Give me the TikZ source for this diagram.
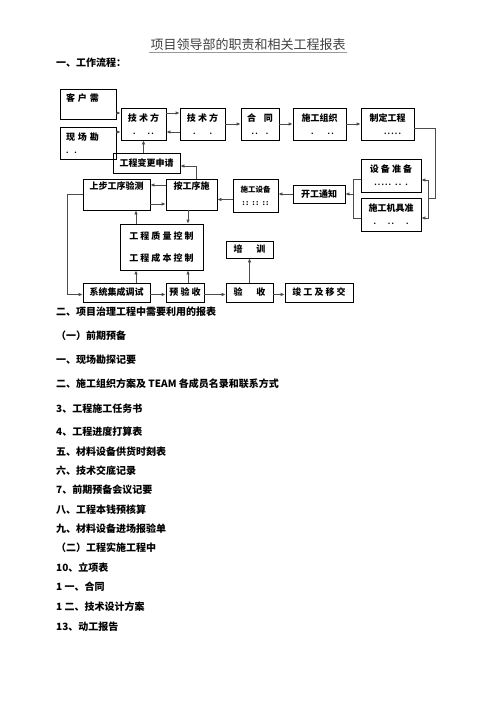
\documentclass[tikz,border=0pt]{standalone}
\usepackage{fontspec}
\setmainfont{Noto Sans CJK SC}
\usetikzlibrary{arrows.meta,positioning}
\tikzset{>={Latex[length=4pt,width=3.6pt]}}
\tikzset{
  box/.style={draw,line width=0.8pt,inner sep=0pt,align=center,
    font=\bfseries\fontsize{9}{13}\selectfont},
  link/.style={->,line width=0.9pt,draw=black!70},
  wire/.style={line width=0.9pt,draw=black!70},
  item/.style={anchor=west,inner sep=0pt,font=\bfseries\fontsize{10}{12}\selectfont}
}
\newcommand{\dotrow}[1]{{\fontsize{7}{7}\selectfont #1}}

\begin{document}
\begin{tikzpicture}[x=1pt,y=-1pt]
\useasboundingbox[fill=white] (0,0) rectangle (496,702);
% heading
\node[font=\fontsize{13}{15}\selectfont,text=black!75,inner sep=1pt] (title) at (248,45) {项目领导部的职责和相关工程报表};
\draw[black!40,line width=1.2pt] (title.south west) -- (title.south east);
\node[item] (flow) at (56,63) {一、工作流程：};

% first row
\node[box,minimum width=56pt,minimum height=30pt,text width=44pt,align=left] (kehu) at (88,104) {客\ 户\ 需\\\mbox{}};
\node[box,minimum width=56pt,minimum height=32pt,text width=44pt,align=left] (xianchang) at (88,143) {现\ 场\ 勘\\\dotrow{.\hspace{6pt}.}};
\node[box,minimum width=45pt,minimum height=32pt] (jishu1) at (143.5,124) {技\ 术\ 方\\\dotrow{.\hspace{12pt}.\,.}};
\node[box,minimum width=45pt,minimum height=32pt] (jishu2) at (202.5,124) {技\ 术\ 方\\\dotrow{.\hspace{14pt}.}};
\node[box,minimum width=38pt,minimum height=32pt] (hetong) at (260,124) {合\hspace{8pt}同\\\dotrow{.\,.\hspace{8pt}.}};
\node[box,minimum width=53pt,minimum height=32pt] (shigongzz) at (319.5,124) {施工组织\\\dotrow{\hspace{6pt}.\hspace{14pt}.\,.}};
\node[box,minimum width=53pt,minimum height=32pt] (zhiding) at (387.5,124) {制定工程\\\dotrow{\hspace{10pt}.\,.\,.\,.\,.}};

% change request
\node[box,minimum width=67pt,minimum height=20pt] (biangeng) at (146.5,163) {工程变更申请};

% equipment
\node[box,minimum width=60pt,minimum height=33pt] (shebei) at (391,175.5) {设\ 备\ 准\ 备\\\dotrow{.\,.\,.\,.\,.\hspace{4pt}.\,.\hspace{4pt}.}};
\node[box,minimum width=60pt,minimum height=33pt] (jiju) at (391,214.5) {施工机具准\\\dotrow{.\hspace{12pt}.\,.\hspace{12pt}.}};
\node[box,minimum width=52pt,minimum height=18pt] (kaigong) at (319,194) {开工通知};
\node[box,minimum width=45pt,minimum height=33pt,font=\bfseries\fontsize{7.5}{13}\selectfont] (sgsb) at (255.5,195.5) {施工设备\\\dotrow{:\,:\hspace{4pt}:\,:\hspace{4pt}:\,:}};
\node[box,minimum width=51pt,minimum height=31pt] (angongxu) at (191.5,194.5) {按工序施\\[4pt]\mbox{}};
\node[box,minimum width=67pt,minimum height=31pt] (shangbu) at (116.5,194.5) {上步工序验测\\[4pt]\mbox{}};

% control
\node[box,minimum width=83pt,minimum height=46pt] (zhiliang) at (161.5,247) {工\ 程\ 质\ 量\ 控\ 制\\[9pt]工\ 程\ 成\ 本\ 控\ 制};
\node[box,minimum width=47pt,minimum height=17pt] (peixun) at (249.5,249.5) {培\hspace{14pt}训};

% last row
\node[box,minimum width=67pt,minimum height=19pt] (xitong) at (116.5,292.5) {系统集成调试};
\node[box,minimum width=38pt,minimum height=19pt] (yuyan) at (185,292.5) {预\ 验\ 收};
\node[box,minimum width=47pt,minimum height=19pt] (yanshou) at (249.5,292.5) {验\hspace{14pt}收};
\node[box,minimum width=68pt,minimum height=19pt] (jungong) at (319,292.5) {竣\ 工\ 及\ 移\ 交};

% connectors, first row
\draw[link] ([yshift=-9pt]kehu.east) -- ([yshift=-9pt]kehu.east -| jishu1.west);
\draw[link] ([yshift=11pt]xianchang.east) -- ([yshift=11pt]xianchang.east -| jishu1.west);
\draw[link] ([yshift=11pt]jishu1.east) -- ([yshift=11pt]jishu2.west);
\draw[link] ([yshift=-8pt]jishu2.west) -- ([yshift=-8pt]jishu1.east);
\draw[link] (jishu2) -- (hetong);
\draw[link] (hetong) -- (shigongzz);
\draw[link] (shigongzz) -- (zhiding);

% right bracket
\coordinate (rbr) at (435,198);
\coordinate (rbl) at (428,198);
\draw[wire] ([yshift=-4pt]zhiding.east) -| (rbr) -- (rbl);
\draw[link] (rbl) |- ([yshift=-4.5pt]shebei.east);
\draw[link] (rbl) |- ([yshift=-3.5pt]jiju.east);
% left bracket
\coordinate (lbr) at (353,194);
\draw[wire] ([yshift=-4pt]shebei.west) -| (lbr);
\draw[wire] ([yshift=-3.5pt]jiju.west) -| (lbr);
\draw[link] (lbr) -- (kaigong.east);

% middle
\draw[link] (kaigong.west) -- (kaigong.west -| sgsb.east);
\draw[link] ([yshift=-4pt]sgsb.west) -- ([yshift=-4pt]sgsb.west -| angongxu.east);
\draw[link] ([yshift=9.5pt]angongxu.west) -- ([yshift=9.5pt]shangbu.east);
\draw[link] ([yshift=-9.5pt]shangbu.east) -- ([yshift=-9.5pt]angongxu.west);
\draw[link] ([xshift=4.5pt]angongxu.north) |- ([yshift=-3pt]biangeng.east);
\draw[link] (jishu1.south |- biangeng.north) -- (jishu1.south);
\draw[link] ([xshift=-3.5pt]angongxu.south) -- ([xshift=-3.5pt]angongxu.south |- zhiliang.north);
\draw[link] ([xshift=-25.5pt]zhiliang.north) -- ([xshift=-25.5pt]zhiliang.north |- shangbu.south);
\draw[link] ([xshift=19.5pt]xitong.north) -- ([xshift=19.5pt]xitong.north |- zhiliang.south);
\draw[link] ([xshift=3pt]yuyan.north) -- ([xshift=3pt]yuyan.north |- zhiliang.south);
\draw[link] (shangbu.west) -- ++(-15,0) |- ([yshift=-2pt]xitong.west);

% last row
\draw[link] ([yshift=-2pt]xitong.east) -- ([yshift=-2pt]yuyan.west);
\draw[link] ([yshift=-2pt]yuyan.east) -- ([yshift=-2pt]yanshou.west);
\draw[link] ([yshift=-2pt]yanshou.east) -- ([yshift=-2pt]jungong.west);
\draw[link] (yanshou.north) -- (peixun.south);

% list of reports
\foreach \y/\t [count=\k] in {
  312/{二、项目治理工程中需要利用的报表},
  336/{（一）前期预备},
  360/{一、现场勘探记要},
  384/{二、施工组织方案及 TEAM 各成员名录和联系方式},
  409/{3、工程施工任务书},
  432/{4、工程进度打算表},
  452/{五、材料设备供货时刻表},
  471/{六、技术交底记录},
  490/{7、前期预备会议记要},
  510/{八、工程本钱预核算},
  529/{九、材料设备进场报验单},
  548/{（二）工程实施工程中},
  568/{10、立项表},
  587/{1 一、合同},
  607/{1 二、技术设计方案},
  627/{13、动工报告}}
  \node[item] (report\k) at (56,\y) {\t};
\end{tikzpicture}
\end{document}
